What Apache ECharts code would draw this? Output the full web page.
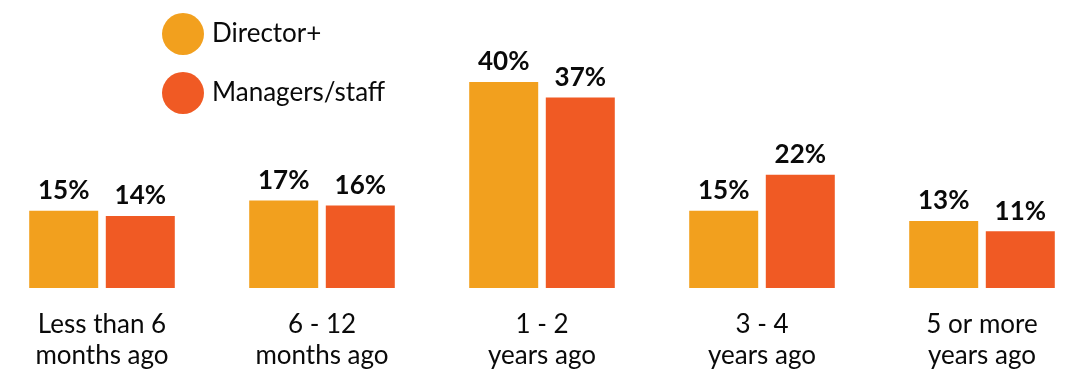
<!DOCTYPE html>
<html>
<head>
<meta charset="utf-8">
<script src="https://cdn.jsdelivr.net/npm/echarts@6/dist/echarts.min.js"></script>
<style>
  html, body { margin: 0; padding: 0; background: #fff; }
  #chart { width: 1070px; height: 387px; }
</style>
</head>
<body>
<div id="chart"></div>
<script>
const categories = ["Less than 6\nmonths ago", "6 - 12\nmonths ago", "1 - 2\nyears ago", "3 - 4\nyears ago", "5 or more\nyears ago"];
const director = [15, 17, 40, 15, 13];
const managers = [14, 16, 37, 22, 11];

let myChart = echarts.init(document.getElementById("chart"), null, { renderer: "canvas" });

const labelStyle = {
  show: true,
  position: "top",
  distance: 7,
  formatter: "{c}%",
  fontFamily: "Lato",
  fontWeight: "bold",
  fontSize: 26,
  color: "#0a0a0a",
};

const option = {
  animation: false,
  textStyle: { fontFamily: "Lato" },
  legend: {
    orient: "vertical",
    left: 157,
    top: 8,
    icon: "circle",
    itemWidth: 42,
    itemHeight: 42,
    itemGap: 17,
    textStyle: { fontSize: 26, color: "#0a0a0a", padding: [0, 0, 0, 3] },
    data: ["Director+", "Managers/staff"],
  },
  grid: { left: -8, right: -22, top: 82, bottom: 99, outerBoundsMode: "none", containLabel: false },
  xAxis: {
    type: "category",
    data: categories,
    axisLine: { show: false },
    axisTick: { show: false },
    axisLabel: { fontSize: 26, lineHeight: 31, color: "#0a0a0a", margin: 21, interval: 0 },
  },
  yAxis: { type: "value", min: 0, max: 40, show: false },
  series: [
    {
      name: "Director+",
      type: "bar",
      data: director,
      barWidth: 69,
      barGap: "11%",
      itemStyle: { color: "#F2A01E" },
      label: labelStyle,
    },
    {
      name: "Managers/staff",
      type: "bar",
      data: managers,
      barWidth: 69,
      itemStyle: { color: "#F05A24" },
      label: labelStyle,
    },
  ],
};

myChart.setOption(option);
window.addEventListener("resize", function () { myChart.resize(); });
</script>
</body>
</html>
